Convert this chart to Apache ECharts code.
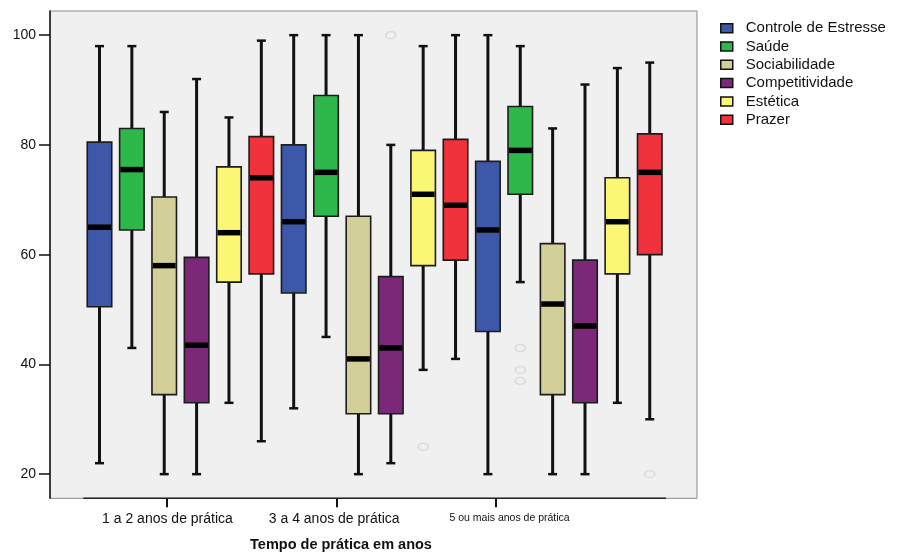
<!DOCTYPE html>
<html>
<head>
<meta charset="utf-8">
<script src="https://cdn.jsdelivr.net/npm/echarts@6/dist/echarts.min.js"></script>
<style>
  html, body { margin: 0; padding: 0; background: #ffffff; }
  #chart { width: 897px; height: 552px; }
</style>
</head>
<body>
<div id="chart"></div>
<script>
// Practice-time groups and the motive scales measured in each
const groups = ['1 a 2 anos de prática', '3 a 4 anos de prática', '5 ou mais anos de prática'];
const motives = ['Controle de Estresse', 'Saúde', 'Sociabilidade', 'Competitividade', 'Estética', 'Prazer'];
const motiveColors = ['#3d58a8', '#2eb84b', '#d3cf98', '#7b2879', '#fbf775', '#f0323c'];

// Box statistics per group: [min, Q1, median, Q3, max]
const controleEstresse = [[22, 50.5, 65, 80.5, 98], [32, 53, 66, 80, 100], [20, 46, 64.5, 77, 100]];
const saude            = [[43, 64.5, 75.5, 83, 98], [45, 67, 75, 89, 100], [55, 71, 79, 87, 98]];
const sociabilidade    = [[20, 34.5, 58, 70.5, 86], [20, 31, 41, 67, 100], [20, 34.5, 51, 62, 83]];
const competitividade  = [[20, 33, 43.5, 59.5, 92], [22, 31, 43, 56, 80], [20, 33, 47, 59, 91]];
const estetica         = [[33, 55, 64, 76, 85], [39, 58, 71, 79, 98], [33, 56.5, 66, 74, 94]];
const prazer           = [[26, 56.5, 74, 81.5, 99], [41, 59, 69, 81, 100], [30, 60, 75, 82, 95]];

// Outlying observations per group
const outControle   = [[], [], []];
const outSaude      = [[], [], [43, 39, 37]];
const outSociab     = [[], [], []];
const outCompet     = [[], [100], []];
const outEstetica   = [[], [25], []];
const outPrazer     = [[], [], [20]];

// Value-axis ticks
const yTicks = [20, 40, 60, 80, 100];

const boxStats = [controleEstresse, saude, sociabilidade, competitividade, estetica, prazer];
const outliers = [outControle, outSaude, outSociab, outCompet, outEstetica, outPrazer];
const nMot = motives.length;

// Slot positions on the horizontal value axis (one slot per box)
const Y_MIN = 15.6, Y_MAX = 104.4;
const X_MIN = -1.529, X_MAX = 18.46;
const tickPos = [2.09, 7.33, 12.25];
const labelPos = [2.10, 7.25, 12.67];

function boxRenderer(sIdx) {
  return function (params, api) {
    const g = api.value(0);
    const x = g * nMot + sIdx;
    const pMin = api.coord([x, api.value(1)]);
    const pQ1 = api.coord([x, api.value(2)]);
    const pMed = api.coord([x, api.value(3)]);
    const pQ3 = api.coord([x, api.value(4)]);
    const pMax = api.coord([x, api.value(5)]);
    const w = api.size([1, 0])[0] * 0.757;
    const cx = pMed[0];
    const cap = 4.5;
    const ink = '#111';
    return {
      type: 'group',
      children: [
        { type: 'line', shape: { x1: cx, y1: pMax[1], x2: cx, y2: pQ3[1] }, style: { stroke: ink, lineWidth: 3 } },
        { type: 'line', shape: { x1: cx, y1: pQ1[1], x2: cx, y2: pMin[1] }, style: { stroke: ink, lineWidth: 3 } },
        { type: 'line', shape: { x1: cx - cap, y1: pMax[1], x2: cx + cap, y2: pMax[1] }, style: { stroke: ink, lineWidth: 2.5 } },
        { type: 'line', shape: { x1: cx - cap, y1: pMin[1], x2: cx + cap, y2: pMin[1] }, style: { stroke: ink, lineWidth: 2.5 } },
        { type: 'rect', shape: { x: cx - w / 2, y: pQ3[1], width: w, height: pQ1[1] - pQ3[1] },
          style: { fill: api.visual('color'), stroke: '#1c1c1c', lineWidth: 1.6 } },
        { type: 'line', shape: { x1: cx - w / 2 + 0.8, y1: pMed[1], x2: cx + w / 2 - 0.8, y2: pMed[1] },
          style: { stroke: '#000', lineWidth: 5.5 } }
      ]
    };
  };
}

const series = motives.map(function (name, sIdx) {
  return {
    name: name,
    type: 'custom',
    renderItem: boxRenderer(sIdx),
    itemStyle: { color: motiveColors[sIdx] },
    encode: { x: 0, y: [1, 2, 3, 4, 5] },
    data: boxStats[sIdx].map(function (s, g) { return [g].concat(s); }),
    silent: true,
    z: 3
  };
});

// Outliers as faint open circles
const outlierPoints = [];
outliers.forEach(function (perGroup, sIdx) {
  perGroup.forEach(function (vals, g) {
    vals.forEach(function (v) { outlierPoints.push([g * nMot + sIdx, v]); });
  });
});
series.push({
  type: 'scatter',
  data: outlierPoints,
  symbol: 'circle',
  symbolSize: [10, 7],
  itemStyle: { color: 'rgba(0,0,0,0)', borderColor: '#d4d4d4', borderWidth: 1.6 },
  silent: true,
  z: 2
});

// Baseline under the box slots
series.push({
  type: 'custom',
  data: [[0]],
  silent: true,
  z: 4,
  renderItem: function (params, api) {
    const a = api.coord([-0.5, Y_MIN]);
    const b = api.coord([nMot * groups.length - 0.5, Y_MIN]);
    return { type: 'line', shape: { x1: a[0], y1: a[1], x2: b[0], y2: b[1] }, style: { stroke: '#222', lineWidth: 1.5 } };
  }
});

const chart = echarts.init(document.getElementById('chart'), null, { renderer: 'canvas' });
chart.setOption({
  animation: false,
  backgroundColor: '#ffffff',
  textStyle: { fontFamily: 'Liberation Sans, Arial, sans-serif' },
  title: {
    text: 'Tempo de prática em anos',
    left: 336,
    textAlign: 'center',
    top: 532,
    textStyle: { fontSize: 14.5, fontWeight: 'bold', color: '#111', fontFamily: 'Liberation Sans, Arial, sans-serif' }
  },
  legend: {
    data: motives,
    orient: 'vertical',
    left: 715,
    top: 15.7,
    itemWidth: 12,
    itemHeight: 9,
    itemGap: 3.3,
    icon: 'rect',
    itemStyle: { borderColor: '#111', borderWidth: 1.5 },
    textStyle: { fontSize: 15, color: '#111', lineHeight: 15, padding: [0, 0, 0, 8] },
    selectedMode: false
  },
  grid: {
    left: 50, right: 200, top: 11, bottom: 53.7,
    show: true, backgroundColor: '#f0f0f0', borderColor: '#8a8a8a', borderWidth: 1
  },
  xAxis: {
    type: 'value',
    min: X_MIN, max: X_MAX,
    axisLine: { show: false, onZero: false },
    splitLine: { show: false },
    axisTick: { show: true, customValues: tickPos, length: 9, lineStyle: { color: '#111', width: 2 } },
    axisLabel: {
      customValues: labelPos,
      margin: 14,
      fontSize: 14,
      color: '#111',
      formatter: function (v) {
        const i = labelPos.indexOf(v);
        return i === 2 ? '{s|' + groups[i] + '}' : groups[i];
      },
      rich: { s: { fontSize: 10.5, color: '#111' } }
    }
  },
  yAxis: {
    type: 'value',
    min: Y_MIN, max: Y_MAX,
    axisLine: { show: true, onZero: false, lineStyle: { color: '#111', width: 1.5 } },
    splitLine: { show: false },
    axisTick: { show: true, customValues: yTicks, length: 11, lineStyle: { color: '#111', width: 1.5 } },
    axisLabel: { customValues: yTicks, margin: 14, fontSize: 14, color: '#111' }
  },
  series: series
});
</script>
</body>
</html>
